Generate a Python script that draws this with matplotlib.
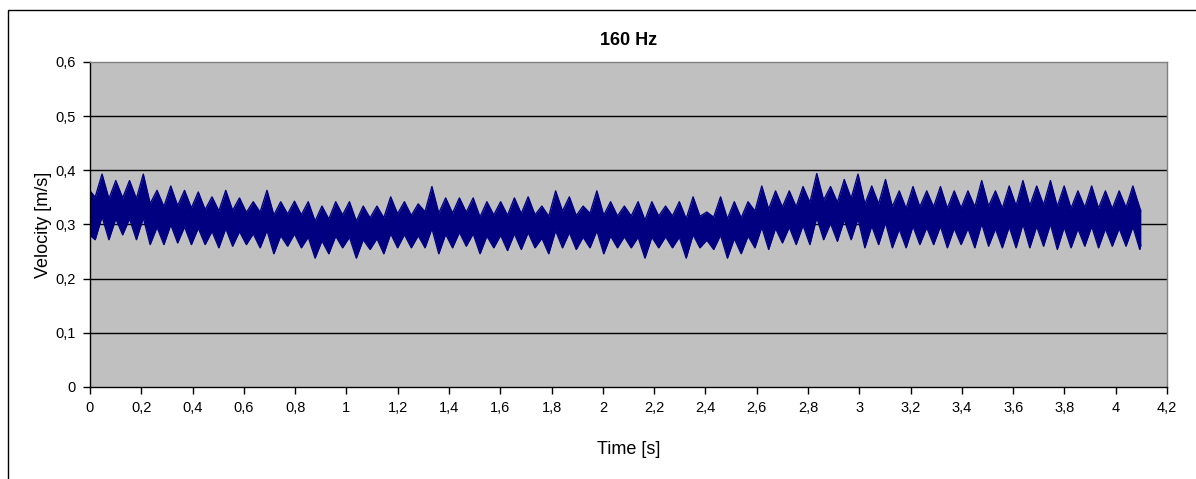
import matplotlib
matplotlib.use("Agg")
import matplotlib.pyplot as plt
from matplotlib.patches import Rectangle
from matplotlib.ticker import FuncFormatter
import numpy as np

plt.rcParams['font.family'] = ['Liberation Sans', 'DejaVu Sans']

# ---- data: 160 Hz velocity record ----
title = "160 Hz"
x_label = "Time [s]"
y_label = "Velocity [m/s]"
x_ticks = [0, 0.2, 0.4, 0.6, 0.8, 1.0, 1.2, 1.4, 1.6, 1.8, 2.0, 2.2, 2.4,
           2.6, 2.8, 3.0, 3.2, 3.4, 3.6, 3.8, 4.0, 4.2]
y_ticks = [0, 0.1, 0.2, 0.3, 0.4, 0.5, 0.6]

# beat cycle of the signal: first crest time and period [s]
first_crest_t = 0.047
beat_period = 0.0536
record_end_t = 4.098

# signal value at the start and end of the record (upper, lower) [m/s]
start_top, start_bottom = 0.362, 0.280
end_top, end_bottom = 0.325, 0.262

# crest (maximum) of each beat cycle [m/s]
crests = [
    0.393, 0.381, 0.381, 0.393, 0.363, 0.371, 0.363, 0.360, 0.351, 0.363,
    0.349, 0.342, 0.363, 0.342, 0.343,
    0.342, 0.334, 0.342, 0.342, 0.334, 0.334, 0.351, 0.342, 0.338, 0.370,
    0.349, 0.349, 0.349, 0.342, 0.342, 0.349,
    0.351, 0.334, 0.362, 0.351, 0.334, 0.362, 0.342, 0.334, 0.342, 0.342,
    0.334, 0.342, 0.351, 0.323, 0.351, 0.342,
    0.342, 0.371, 0.362, 0.362, 0.370, 0.394, 0.370, 0.383, 0.393, 0.371,
    0.383, 0.362, 0.370, 0.362, 0.370,
    0.362, 0.362, 0.381, 0.362, 0.371, 0.381, 0.371, 0.381, 0.371, 0.362,
    0.371, 0.362, 0.362, 0.371,
]

# trough (minimum) of each beat cycle, one before every crest plus the last [m/s]
troughs = [
    0.272, 0.272, 0.281, 0.272, 0.263, 0.263, 0.266, 0.263, 0.263, 0.257,
    0.260, 0.263, 0.257, 0.246, 0.260, 0.257,
    0.238, 0.246, 0.257, 0.238, 0.254, 0.246, 0.257, 0.257, 0.257, 0.246,
    0.257, 0.260, 0.246, 0.257, 0.252, 0.254,
    0.257, 0.246, 0.257, 0.254, 0.257, 0.246, 0.257, 0.257, 0.238, 0.257,
    0.257, 0.238, 0.257, 0.254, 0.238,
    0.246, 0.257, 0.254, 0.266, 0.263, 0.263, 0.272, 0.269, 0.272, 0.257,
    0.263, 0.257, 0.257, 0.263, 0.263, 0.257,
    0.263, 0.257, 0.260, 0.257, 0.257, 0.257, 0.260, 0.254, 0.257, 0.260,
    0.257, 0.260, 0.260, 0.254,
]

# half thickness of the 160 Hz carrier band around the beat centre [m/s]
carrier_half = 0.018

# ---- build the upper / lower envelope of the record ----
crests_a = np.array(crests)
troughs_a = np.array(troughs)
n = len(crests_a)
crest_t = first_crest_t + beat_period * np.arange(n)
trough_t = np.append(crest_t - beat_period / 2, crest_t[-1] + beat_period / 2)

t_nodes = [0.0]
upper = [start_top]
lower = [start_bottom]
for k in range(n + 1):
    # trough node
    nb = [crests_a[j] for j in (k - 1, k) if 0 <= j < n]
    c = 0.5 * (troughs_a[k] + np.mean(nb))
    t_nodes.append(trough_t[k]); upper.append(c + carrier_half); lower.append(troughs_a[k])
    if k < n:
        c = 0.5 * (crests_a[k] + 0.5 * (troughs_a[k] + troughs_a[k + 1]))
        t_nodes.append(crest_t[k]); upper.append(crests_a[k]); lower.append(c - carrier_half)
t_nodes.append(record_end_t); upper.append(end_top); lower.append(end_bottom)

# ---- figure ----
W, H = 1196, 479
fig = plt.figure(figsize=(W / 100, H / 100), dpi=100)
fig.patch.set_facecolor("white")

# outer chart frame
fig.add_artist(Rectangle((8 / W, -0.1), 1.2, 1 - 10 / H + 0.1, transform=fig.transFigure,
                         fill=False, edgecolor="black", linewidth=1.0))

left, right, top, bottom = 90, 1167, 62, 387
ax = fig.add_axes([left / W, (H - bottom) / H, (right - left) / W, (bottom - top) / H])
ax.set_facecolor("#C0C0C0")

navy = "#000080"
ax.fill_between(t_nodes, lower, upper, color=navy, linewidth=0)
ax.plot(t_nodes, upper, color=navy, linewidth=1.0)
ax.plot(t_nodes, lower, color=navy, linewidth=1.0)

ax.set_xlim(0, 4.2)
ax.set_ylim(0, 0.6)
ax.set_xticks(x_ticks)
ax.set_yticks(y_ticks)

def comma(v, pos):
    s = f"{v:.1f}".rstrip("0").rstrip(".")
    return s.replace(".", ",")

ax.xaxis.set_major_formatter(FuncFormatter(comma))
ax.yaxis.set_major_formatter(FuncFormatter(comma))

for y in y_ticks[1:-1]:
    ax.axhline(y, color="black", linewidth=1.0, zorder=0.5)

for s in ("top", "right"):
    ax.spines[s].set_color("#808080")
for s in ("left", "bottom"):
    ax.spines[s].set_color("black")
for s in ax.spines.values():
    s.set_linewidth(1.0)

ax.tick_params(axis="both", direction="out", length=5, width=1, labelsize=10.5,
               colors="black", pad=5)

ax.set_title(title, fontsize=13, fontweight="bold", pad=12)
ax.set_xlabel(x_label, fontsize=13, labelpad=19)
ax.set_ylabel(y_label, fontsize=13, labelpad=3)

fig.savefig("out.png", dpi=100)
